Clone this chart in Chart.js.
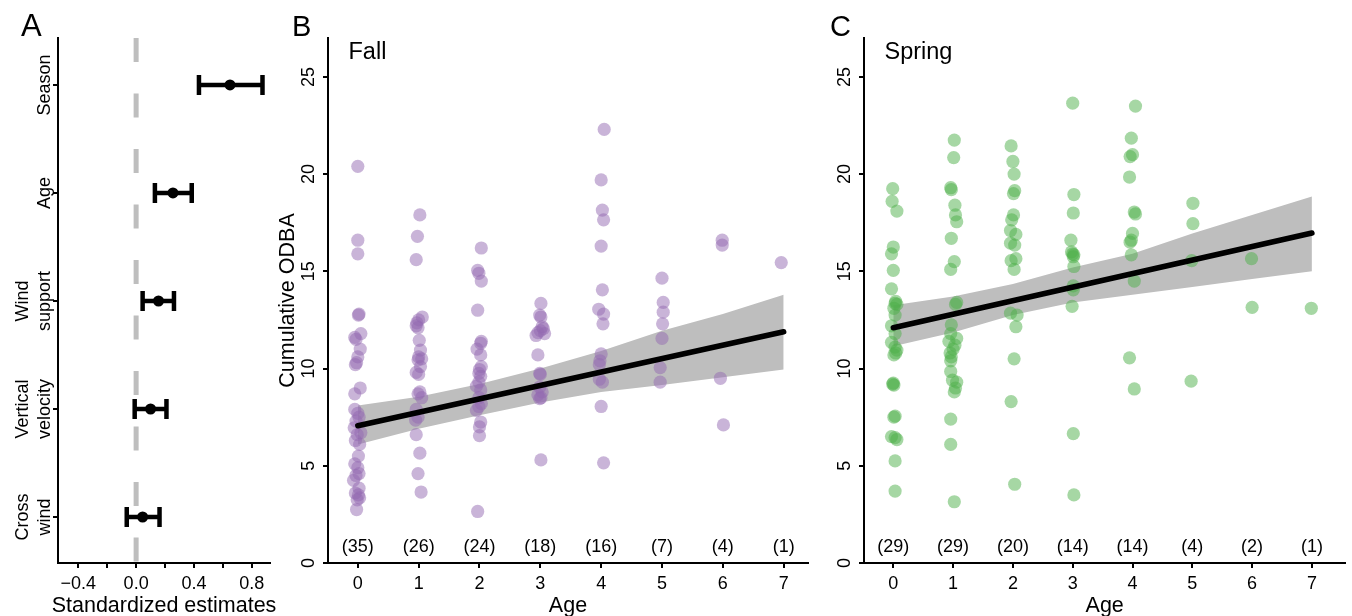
<!DOCTYPE html>
<html>
<head>
<meta charset="utf-8">
<title>Cumulative ODBA by age</title>
<script src="https://cdn.jsdelivr.net/npm/chart.js@4.4.1/dist/chart.umd.min.js"></script>
<style>
  html, body { margin:0; padding:0; background:#fff; }
  #wrap { position:relative; width:1352px; height:616px; overflow:hidden; background:#fff; }
  #wrap canvas { position:absolute; left:0; top:0; }
</style>
</head>
<body>
<div id="wrap">
  <canvas id="panelA" width="1352" height="616"></canvas>
  <canvas id="panelB" width="1352" height="616"></canvas>
  <canvas id="panelC" width="1352" height="616"></canvas>
</div>
<script>
// ---------------- data ----------------
// Panel A: standardized estimates
const termLabels = [['Season'], ['Age'], ['Wind', 'support'], ['Vertical', 'velocity'], ['Cross', 'wind']];
const termRows = [5, 4, 3, 2, 1];
const termEstimate = [0.65, 0.255, 0.155, 0.10, 0.045];
const termLower = [0.435, 0.13, 0.045, -0.01, -0.065];
const termUpper = [0.875, 0.385, 0.262, 0.21, 0.162];
const estimateLabelTicks = [-0.4, 0.0, 0.4, 0.8];

// Panels B/C
const ageValues = [0, 1, 2, 3, 4, 5, 6, 7];
const fallCounts = ['(35)', '(26)', '(24)', '(18)', '(16)', '(7)', '(4)', '(1)'];
const springCounts = ['(29)', '(29)', '(20)', '(14)', '(14)', '(4)', '(2)', '(1)'];
const odbaTicks = [0, 5, 10, 15, 20, 25];

const fallOdba = [
  [20.4,16.6,15.9,12.8,12.75,11.8,11.6,11.5,11.0,10.6,10.3,10.2,9.0,8.7,7.9,7.7,7.5,7.3,6.95,6.7,6.6,6.3,6.1,5.5,5.1,4.9,4.6,4.5,4.25,3.85,3.6,3.5,3.35,3.25,2.75],
  [17.9,16.8,15.6,12.65,12.5,12.35,12.2,12.1,11.45,10.95,10.6,10.5,10.45,10.1,9.8,9.7,8.8,8.7,8.5,7.9,7.5,7.35,6.6,5.65,4.6,3.65],
  [16.2,15.05,14.9,14.5,13.0,11.4,11.3,11.0,10.7,10.1,9.95,9.75,9.6,9.3,9.1,8.9,8.5,8.2,8.05,7.85,7.25,7.0,6.55,2.65],
  [13.35,12.75,12.65,12.15,12.05,11.95,11.85,11.8,11.7,10.7,9.75,9.7,9.05,8.8,8.65,8.5,8.45,5.3],
  [22.3,19.7,18.15,17.65,16.3,14.05,13.05,12.8,12.3,10.75,10.4,10.2,9.45,9.3,8.05,5.15],
  [14.65,13.4,12.9,12.3,11.55,10.05,9.3],
  [16.6,16.35,9.5,7.1],
  [15.45]
];
const fallJitter = [
  [0.0,0.0,0.0,0.02,0.01,0.05,-0.05,-0.03,0.04,0.0,-0.02,-0.04,0.04,-0.05,-0.05,0.0,0.02,-0.03,-0.06,0.05,-0.01,-0.04,0.03,0.01,-0.05,0.0,0.02,-0.03,-0.07,0.02,-0.04,0.01,0.03,-0.01,-0.02],
  [0.02,-0.02,-0.04,0.06,0.0,-0.03,-0.04,-0.01,0.01,0.03,0.0,0.05,-0.01,0.03,-0.04,0.0,0.02,-0.01,0.05,-0.04,-0.01,-0.05,-0.04,0.02,-0.01,0.04],
  [0.03,-0.03,-0.01,0.03,-0.03,0.03,0.02,-0.04,0.02,0.03,0.0,-0.01,0.02,-0.01,-0.05,0.02,-0.01,0.03,-0.01,-0.05,0.02,0.0,0.0,-0.03],
  [0.01,-0.01,0.01,0.03,0.05,0.0,-0.04,0.07,-0.07,-0.04,-0.01,0.0,-0.01,0.03,-0.04,0.01,-0.01,0.01],
  [0.05,0.0,0.02,0.04,0.0,0.02,-0.04,0.04,0.03,0.0,-0.02,-0.03,-0.03,0.02,0.0,0.04],
  [0.0,0.02,0.02,0.01,0.0,-0.03,-0.03],
  [-0.01,-0.01,-0.04,0.01],
  [-0.04]
];
const springOdba = [
  [19.25,18.6,18.1,16.25,15.9,15.05,14.1,13.45,13.35,13.3,13.1,12.75,12.2,11.8,11.35,11.1,10.95,10.8,10.7,9.25,9.2,9.15,7.55,7.5,6.5,6.45,6.35,5.25,3.7],
  [21.75,20.85,19.3,19.2,18.4,17.9,17.55,16.7,15.5,15.1,13.4,13.3,12.25,11.8,11.55,11.4,11.2,11.0,10.8,10.6,10.4,9.85,9.4,9.3,9.0,8.8,7.4,6.1,3.15],
  [21.45,20.65,20.0,19.15,19.0,17.9,17.65,17.1,16.9,16.45,16.35,15.65,15.55,15.1,12.85,12.75,12.15,10.5,8.3,4.05],
  [23.65,18.95,18.0,16.6,16.0,15.9,15.85,15.75,15.25,14.25,14.05,13.2,6.65,3.5],
  [23.5,21.85,21.0,20.9,19.85,18.05,17.95,16.95,16.6,16.5,15.85,14.5,10.55,8.95],
  [18.5,17.45,15.55,9.35],
  [15.65,13.15],
  [13.1]
];
const springJitter = [
  [-0.01,-0.02,0.06,0.0,-0.03,0.0,-0.03,0.04,0.03,0.06,0.01,0.03,-0.03,0.03,-0.03,0.03,0.06,0.04,0.01,0.0,-0.01,0.01,0.03,0.01,-0.03,0.03,0.06,0.03,0.03],
  [0.02,0.01,-0.04,-0.03,0.03,0.04,0.06,-0.03,0.02,-0.04,0.06,0.04,-0.03,-0.04,0.06,-0.07,0.03,0.0,-0.05,-0.03,-0.04,-0.04,-0.01,0.06,0.04,0.02,-0.04,-0.04,0.02],
  [-0.03,0.0,0.02,0.03,0.01,0.01,-0.02,-0.04,0.05,-0.04,0.03,0.05,-0.03,0.02,-0.04,0.07,0.05,0.02,-0.03,0.03],
  [0.0,0.02,0.01,-0.03,-0.02,0.0,0.02,0.01,0.02,0.01,0.01,-0.01,0.01,0.02],
  [0.05,-0.02,0.0,-0.04,-0.05,0.03,0.05,0.0,-0.02,-0.04,-0.02,0.03,-0.05,0.03],
  [0.01,0.01,-0.01,-0.02],
  [-0.01,0.0],
  [-0.01]
];

const fitAges = [0, 7];
const fallFit = [7.06, 11.89];
const springFit = [12.1, 16.97];
const fallBandUpper = [8.1, 8.55, 9.2, 10.0, 10.9, 11.95, 12.8, 13.8];
const fallBandLower = [6.1, 6.9, 7.6, 8.25, 8.8, 9.15, 9.55, 9.95];
const springBandUpper = [13.25, 13.7, 14.35, 15.2, 15.9, 16.95, 17.9, 18.85];
const springBandLower = [11.15, 11.85, 12.75, 13.4, 13.8, 14.2, 14.6, 15.0];

// ---------------- style ----------------
const FONT = "'Liberation Sans', Arial, Helvetica, sans-serif";
Chart.defaults.font.family = FONT;
Chart.defaults.color = '#000';
const TICK_PX = 18, TITLE_PX = 21.5, TAG_PX = 29, SEASON_PX = 23.5;
const W = 1352, H = 616, TOP = 38, BOTTOM = 563, X_AXIS_H = 53, Y_AXIS_W = 8;

function rotText(ctx, text, x, y, px, baseline) {
  ctx.save();
  ctx.translate(x, y);
  ctx.rotate(-Math.PI / 2);
  ctx.font = px + 'px ' + FONT;
  ctx.fillStyle = '#000';
  ctx.textAlign = 'center';
  ctx.textBaseline = baseline;
  ctx.fillText(text, 0, 0);
  ctx.restore();
}
function plainText(ctx, text, x, y, px, align, baseline) {
  ctx.save();
  ctx.font = px + 'px ' + FONT;
  ctx.fillStyle = '#000';
  ctx.textAlign = align;
  ctx.textBaseline = baseline;
  ctx.fillText(text, x, y);
  ctx.restore();
}
function axisGrid() {
  return { display: true, drawOnChartArea: false, drawTicks: true, tickLength: 5,
           tickWidth: 2, tickColor: '#000', color: '#000', lineWidth: 2 };
}
const axisBorder = { display: true, color: '#000', width: 2 };

function baseOptions(left, right, xOpts, yOpts) {
  return {
    responsive: false, animation: false, events: [],
    layout: { padding: { left: left - Y_AXIS_W, top: TOP, right: W - right, bottom: H - BOTTOM - X_AXIS_H } },
    plugins: { legend: { display: false }, tooltip: { enabled: false } },
    scales: {
      x: Object.assign({ type: 'linear', position: 'bottom',
        afterFit(s) { s.height = X_AXIS_H; },
        grid: axisGrid(), border: axisBorder }, xOpts),
      y: Object.assign({ type: 'linear', position: 'left',
        afterFit(s) { s.width = Y_AXIS_W; },
        grid: axisGrid(), border: axisBorder }, yOpts)
    }
  };
}

// ---------------- Panel A ----------------
const aMin = 0.574, aMax = 5.435;
const panelADatasets = [];
termRows.forEach((r, i) => {
  panelADatasets.push({ type: 'line', data: [{ x: termLower[i], y: r }, { x: termUpper[i], y: r }],
    borderColor: '#000', borderWidth: 4.5, borderCapStyle: 'butt', pointRadius: 0, order: 5 });
});
panelADatasets.push({ type: 'scatter',
  data: termRows.flatMap((r, i) => [{ x: termLower[i], y: r }, { x: termUpper[i], y: r }]),
  pointStyle: 'line', pointRotation: 90, rotation: 90, pointRadius: 10, radius: 10,
  borderColor: '#000', pointBorderColor: '#000', borderWidth: 4.5, pointBorderWidth: 4.5, order: 4 });
panelADatasets.push({ type: 'scatter',
  data: termRows.map((r, i) => ({ x: termEstimate[i], y: r })),
  pointRadius: 5.5, backgroundColor: '#000', pointBackgroundColor: '#000', borderWidth: 0, pointBorderWidth: 0, order: 3 });
panelADatasets.push({ type: 'line', data: [{ x: 0, y: aMax }, { x: 0, y: aMin }],
  borderColor: '#BEBEBE', borderWidth: 5, borderDash: [24, 31.5], borderCapStyle: 'butt', pointRadius: 0, order: 10 });

const panelAText = {
  id: 'panelAText',
  afterDraw(chart) {
    const { ctx, chartArea: ca, scales: { y } } = chart;
    termRows.forEach((r, i) => {
      const lines = termLabels[i];
      const yp = y.getPixelForValue(r);
      lines.forEach((ln, k) => {
        const bx = ca.left - 8.5 - (lines.length - 1 - k) * 21.5;
        rotText(ctx, ln, bx, yp, TICK_PX, 'alphabetic');
      });
    });
    plainText(ctx, 'Standardized estimates', (ca.left + ca.right) / 2, 611.5, TITLE_PX, 'center', 'alphabetic');
    plainText(ctx, 'A', 21, 36, 31, 'left', 'alphabetic');
  }
};

new Chart(document.getElementById('panelA'), {
  type: 'scatter',
  data: { datasets: panelADatasets },
  options: baseOptions(58, 270,
    { min: -0.541, max: 0.927,
      ticks: { stepSize: 0.2, includeBounds: false, autoSkip: false, maxRotation: 0, minRotation: 0,
        padding: 5.5, color: '#000', font: { size: TICK_PX },
        callback(v) {
          const hit = estimateLabelTicks.find(t => Math.abs(t - v) < 1e-6);
          if (hit === undefined) return '';
          return (hit < 0 ? '\u2212' : '') + Math.abs(hit).toFixed(1);
        } },
      title: { display: false } },
    { min: aMin, max: aMax, ticks: { display: false, stepSize: 1, includeBounds: false } }),
  plugins: [panelAText]
});

// ---------------- Panels B / C ----------------
function odbaPanel(canvasId, left, right, xMax, odba, jitter, counts, fit, bandUp, bandLo, color, season, tag, tagX, showYTitle) {
  const pts = ageValues.flatMap((a, i) => odba[i].map((v, j) => ({ x: a + jitter[i][j], y: v })));
  const datasets = [
    { type: 'line', data: ageValues.map((a, i) => ({ x: a, y: bandUp[i] })), fill: '+1',
      backgroundColor: '#BEBEBE', borderWidth: 0, pointRadius: 0, order: 6 },
    { type: 'line', data: ageValues.map((a, i) => ({ x: a, y: bandLo[i] })), fill: false,
      borderWidth: 0, pointRadius: 0, order: 5 },
    { type: 'scatter', data: pts, pointRadius: 6.6, backgroundColor: color, pointBackgroundColor: color,
      borderWidth: 0, pointBorderWidth: 0, order: 3 },
    { type: 'line', data: fitAges.map((a, i) => ({ x: a, y: fit[i] })), borderColor: '#000',
      borderWidth: 5.5, borderCapStyle: 'round', pointRadius: 0, order: 1 }
  ];
  const textPlugin = {
    id: 'text_' + canvasId,
    afterDraw(chart) {
      const { ctx, chartArea: ca, scales: { x, y } } = chart;
      odbaTicks.forEach(v => rotText(ctx, String(v), ca.left - 19, y.getPixelForValue(v), TICK_PX, 'middle'));
      if (showYTitle) rotText(ctx, 'Cumulative ODBA', ca.left - 34, (ca.top + ca.bottom) / 2, TITLE_PX, 'alphabetic');
      ageValues.forEach((a, i) => plainText(ctx, counts[i], x.getPixelForValue(a), y.getPixelForValue(0.82), TICK_PX, 'center', 'middle'));
      plainText(ctx, 'Age', (ca.left + ca.right) / 2, 611.5, TITLE_PX, 'center', 'alphabetic');
      plainText(ctx, season, ca.left + 20.5, 58.5, SEASON_PX, 'left', 'alphabetic');
      plainText(ctx, tag, tagX, 36, TAG_PX, 'left', 'alphabetic');
    }
  };
  new Chart(document.getElementById(canvasId), {
    type: 'scatter',
    data: { datasets },
    options: baseOptions(left, right,
      { min: -0.49, max: xMax,
        ticks: { stepSize: 1, includeBounds: false, autoSkip: false, maxRotation: 0, minRotation: 0,
          padding: 5.5, color: '#000', font: { size: TICK_PX } },
        title: { display: false } },
      { min: 0, max: 27, ticks: { display: false, stepSize: 5, includeBounds: false } }),
    plugins: [textPlugin]
  });
}

odbaPanel('panelB', 328, 808, 7.4, fallOdba, fallJitter, fallCounts, fallFit, fallBandUpper, fallBandLower,
  'rgba(148,106,178,0.5)', 'Fall', 'B', 292, true);
odbaPanel('panelC', 864, 1346, 7.56, springOdba, springJitter, springCounts, springFit, springBandUpper, springBandLower,
  'rgba(77,175,74,0.5)', 'Spring', 'C', 830, false);
</script>
</body>
</html>
